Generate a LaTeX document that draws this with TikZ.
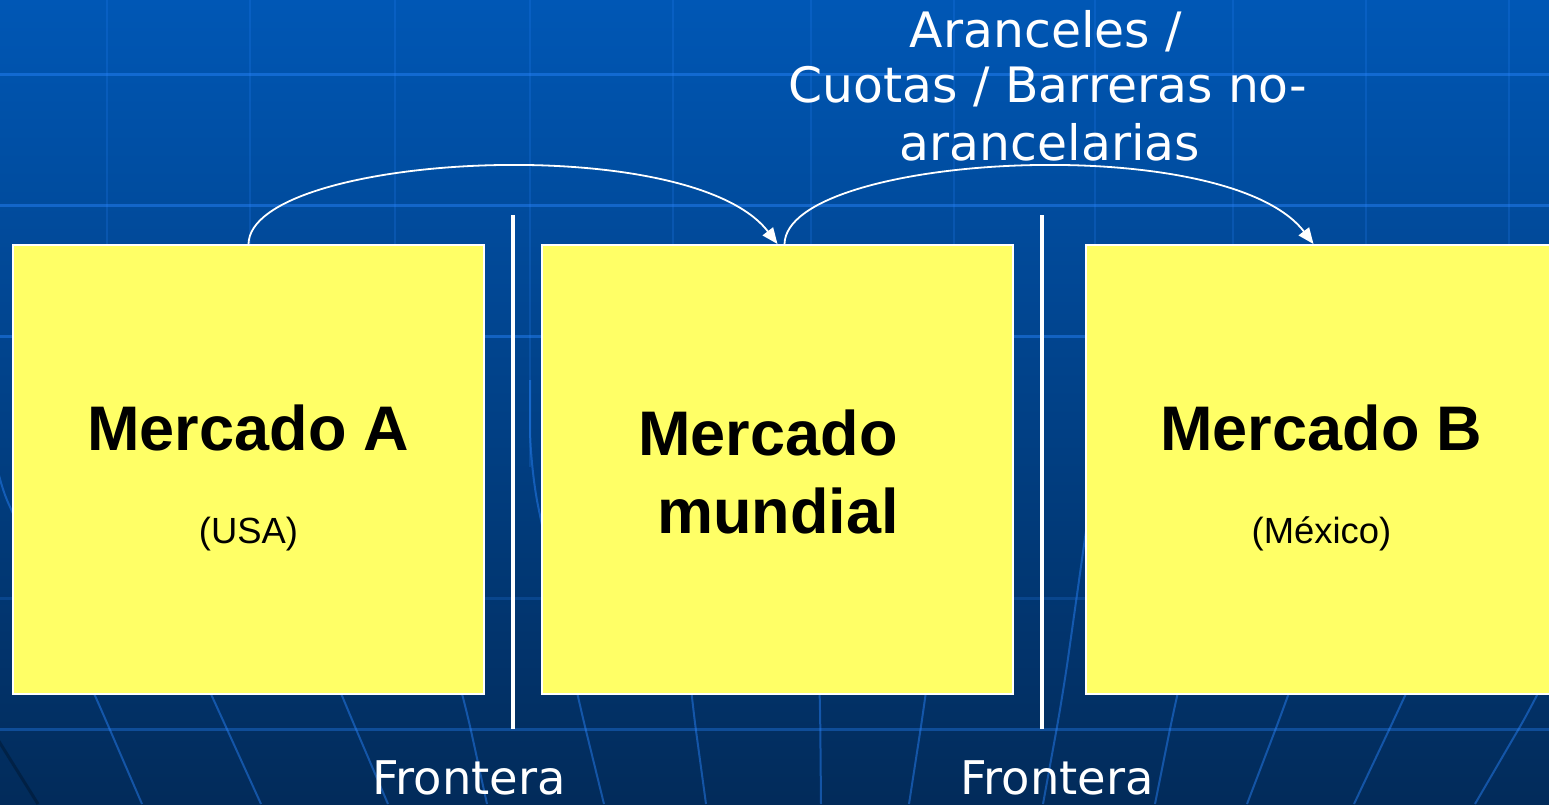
\documentclass[tikz,border=0pt]{standalone}
\usepackage{fontspec}
\setmainfont{Liberation Sans}
\newfontfamily\tah{DejaVu Sans}
\usetikzlibrary{arrows.meta,calc}
\definecolor{bgtop}{HTML}{0057B5}
\definecolor{bgbot}{HTML}{022B5A}
\definecolor{gridc}{HTML}{2A86FF}
\definecolor{boxy}{HTML}{FFFF66}
\tikzset{
 mbox/.style={draw=white, line width=1pt, fill=boxy, minimum width=235.5pt, minimum height=224.5pt, inner sep=0pt},
 mtitle/.style={font=\bfseries\fontsize{31.5}{36}\selectfont, anchor=base, inner sep=0pt, text=black},
 msub/.style={font=\fontsize{18.2}{22}\selectfont, anchor=base, inner sep=0pt, text=black},
 wlabel/.style={font=\tah\fontsize{24.4}{28}\selectfont, text=white, anchor=base, inner sep=0pt},
 flabel/.style={font=\tah\fontsize{23.2}{28}\selectfont, text=white, anchor=base, inner sep=0pt},
 conn/.style={draw=white, line width=0.9pt, -{Triangle[length=8pt,width=6.5pt]}},
 sepline/.style={draw=white, line width=2pt},
 hgrid/.style={draw=gridc, draw opacity=0.45, line width=1.5pt},
 vgridup/.style={draw=gridc, draw opacity=0.2, line width=1pt},
 vgridlow/.style={draw=gridc, draw opacity=0.45, line width=1pt},
}
\begin{document}
\begin{tikzpicture}[x=0.5pt,y=-0.5pt]
\useasboundingbox (0,0) rectangle (1549,804);
\clip (0,0) rectangle (1549,804);
\shade[top color=bgtop, bottom color=bgbot] (0,0) rectangle (1549,804);
% globe grid
\foreach \xt/\xa/\xb in {-8/94.5/142, 107/211/261, 250/341/388, 395/463/487, 530/577/604, 673/691/706, 811/820/821, 954/926/909, 1095/1063/1043, 1233/1177/1155, 1366/1289/1247, 1509/1406/1354, 1640/1539/1475}{
  \draw[vgridup] (\xt,0) -- (\xt,467);
  \draw[vgridlow, rounded corners=20pt] (\xt,380) -- (\xt,467) -- (\xa,694) -- (\xb,804);
}
\foreach \yy in {74,205,336}{ \draw[hgrid] (0,\yy) -- (1549,\yy); }
\draw[hgrid, draw opacity=0.2] (0,598) -- (1549,598);
\draw[hgrid, draw opacity=0.35] (0,729) -- (1549,729);
\draw[draw=black, draw opacity=0.25, line width=1.5pt] (-5,735) -- (38,804);
% border separators
\draw[sepline] (513,215) -- (513,729);
\draw[sepline] (1042,215) -- (1042,729);
% markets
\node[mbox] (A) at (248.5,469.5) {};
\node[mbox] (M) at (777.5,469.5) {};
\node[mbox] (B) at (1321.5,469.5) {};
\node[mtitle] (tA) at (248.5,450) {Mercado A};
\node[msub] (sA) at (248.5,543) {(USA)};
\node[mtitle] (tM1) at (768,455) {Mercado};
\node[mtitle] (tM2) at (778,533) {mundial};
\node[mtitle] (tB) at (1321.5,450) {Mercado B};
\node[msub] (sB) at (1321.5,543) {(México)};
% labels
\node[wlabel] (l1) at (1046,47) {Aranceles /};
\node[wlabel] (l2) at (1048,102) {Cuotas / Barreras no-};
\node[wlabel] (l3) at (1050,160) {arancelarias};
\node[flabel] (f1) at (469,794) {Frontera};
\node[flabel] (f2) at (1057,794) {Frontera};
% arrows
\draw[conn] (A.north) .. controls +(2,-90) and +(-88,-115) .. (M.north);
\coordinate (m2) at ($(M.north)+(7,0)$);
\coordinate (b2) at ($(B.north)+(-8,0)$);
\draw[conn] (m2) .. controls +(2,-90) and +(-88,-115) .. (b2);
\end{tikzpicture}
\end{document}
